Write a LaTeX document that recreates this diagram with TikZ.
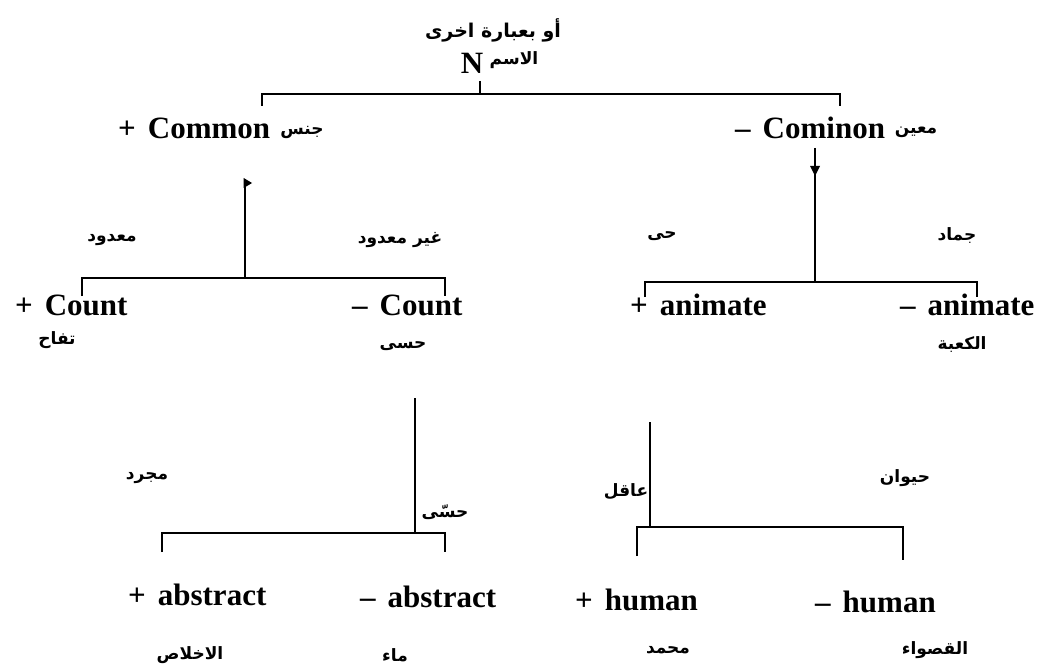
\documentclass[tikz,border=0pt]{standalone}
\usepackage{fontspec}
\setmainfont{Liberation Serif}
\newfontfamily\arfont[Script=Arabic]{DejaVu Sans}
\TeXXeTstate=1
\newcommand\AR[1]{{\arfont\bfseries\beginR #1\endR}}
\tikzset{
  lbl/.style={inner sep=0pt, font=\fontsize{31}{33}\selectfont\bfseries, anchor=west},
  ar/.style={inner sep=0pt, font=\fontsize{17}{20}\selectfont},
  br/.style={line width=2.7pt, line join=miter, line cap=butt},
}
\begin{document}
\begin{tikzpicture}[x=1pt,y=-1pt]
\useasboundingbox (0,0) rectangle (1058,671);
% top
\node[ar, font=\fontsize{19}{22}\selectfont] (title) at (493,30) {\AR{أو بعبارة اخرى}};
\node[inner sep=0pt, font=\fontsize{31}{33}\selectfont\bfseries] (N) at (472,63) {N};
\node[ar] (ism) at (514,60) {\AR{الاسم}};
\coordinate (tL) at (262,106);
\coordinate (tLc) at (262,94);
\coordinate (tR) at (840,106);
\coordinate (tRc) at (840,94);
\coordinate (tS) at (480,94);
\coordinate (tT) at (480,81);
\draw[br] (tL) -- (tLc) -- (tRc) -- (tR);
\draw[br] (tT) -- (tS);
% row 2
\node[lbl] (common) at (118,128) {+\hspace{12pt}Common};
\node[ar] (jins) at (302,132) {\AR{جنس}};
\node[lbl] (cominon) at (735,128) {--\hspace{12pt}Cominon};
\node[ar] (muayyan) at (916,132) {\AR{معين}};
% Common stem and Count bracket
\coordinate (cS) at (245,181);
\coordinate (cB) at (245,278);
\coordinate (cL) at (82,296);
\coordinate (cLc) at (82,278);
\coordinate (cR) at (445,296);
\coordinate (cRc) at (445,278);
\draw[br] (cS) -- (cB);
\fill (243.7,178) -- (252,183) -- (243.7,188) -- cycle;
\draw[br] (cL) -- (cLc) -- (cRc) -- (cR);
\node[ar] (madud) at (112,240) {\AR{معدود}};
\node[ar] (ghayr) at (400,240) {\AR{غير معدود}};
% Cominon stem and animate bracket
\coordinate (mS) at (815,148);
\coordinate (mA) at (815,175);
\coordinate (mB) at (815,282);
\coordinate (aL) at (645,297);
\coordinate (aLc) at (645,282);
\coordinate (aR) at (977,297);
\coordinate (aRc) at (977,282);
\draw[br] (mS) -- (mA) -- (mB);
\fill (810,166) -- (820,166) -- (815,176) -- cycle;
\draw[br] (aL) -- (aLc) -- (aRc) -- (aR);
\node[ar] (hayy) at (662,236) {\AR{حى}};
\node[ar] (jamad) at (957,236) {\AR{جماد}};
% row 4
\node[lbl] (pcount) at (15,305) {+\hspace{12pt}Count};
\node[lbl] (mcount) at (352,305) {--\hspace{12pt}Count};
\node[lbl] (panim) at (630,305) {+\hspace{12pt}animate};
\node[lbl] (manim) at (900,305) {--\hspace{12pt}animate};
\node[ar] (tuffah) at (57,340) {\AR{تفاح}};
\node[ar] (hissi1) at (403,346) {\AR{حسى}};
\node[ar] (kaaba) at (962,345) {\AR{الكعبة}};
% abstract
\coordinate (bS) at (415,398);
\coordinate (bB) at (415,533);
\coordinate (bL) at (162,552);
\coordinate (bLc) at (162,533);
\coordinate (bR) at (445,552);
\coordinate (bRc) at (445,533);
\draw[br] (bS) -- (bB);
\draw[br] (bL) -- (bLc) -- (bRc) -- (bR);
\node[ar] (mujarrad) at (147,478) {\AR{مجرد}};
\node[ar] (hissi2) at (445,512) {\AR{حسّى}};
\node[lbl] (pabs) at (128,595) {+\hspace{12pt}abstract};
\node[lbl] (mabs) at (360,597) {--\hspace{12pt}abstract};
\node[ar] (ikhlas) at (190,655) {\AR{الاخلاص}};
\node[ar] (maa) at (395,655) {\AR{ماء}};
% human
\coordinate (hS) at (650,422);
\coordinate (hB) at (650,527);
\coordinate (hL) at (637,556);
\coordinate (hLc) at (637,527);
\coordinate (hR) at (903,560);
\coordinate (hRc) at (903,527);
\draw[br] (hS) -- (hB);
\draw[br] (hL) -- (hLc) -- (hRc) -- (hR);
\node[ar] (aqil) at (626,492) {\AR{عاقل}};
\node[ar] (hayawan) at (905,478) {\AR{حيوان}};
\node[lbl] (phum) at (575,600) {+\hspace{12pt}human};
\node[lbl] (mhum) at (815,602) {--\hspace{12pt}human};
\node[ar] (muhammad) at (668,650) {\AR{محمد}};
\node[ar] (qaswa) at (935,650) {\AR{القصواء}};
\end{tikzpicture}
\end{document}
